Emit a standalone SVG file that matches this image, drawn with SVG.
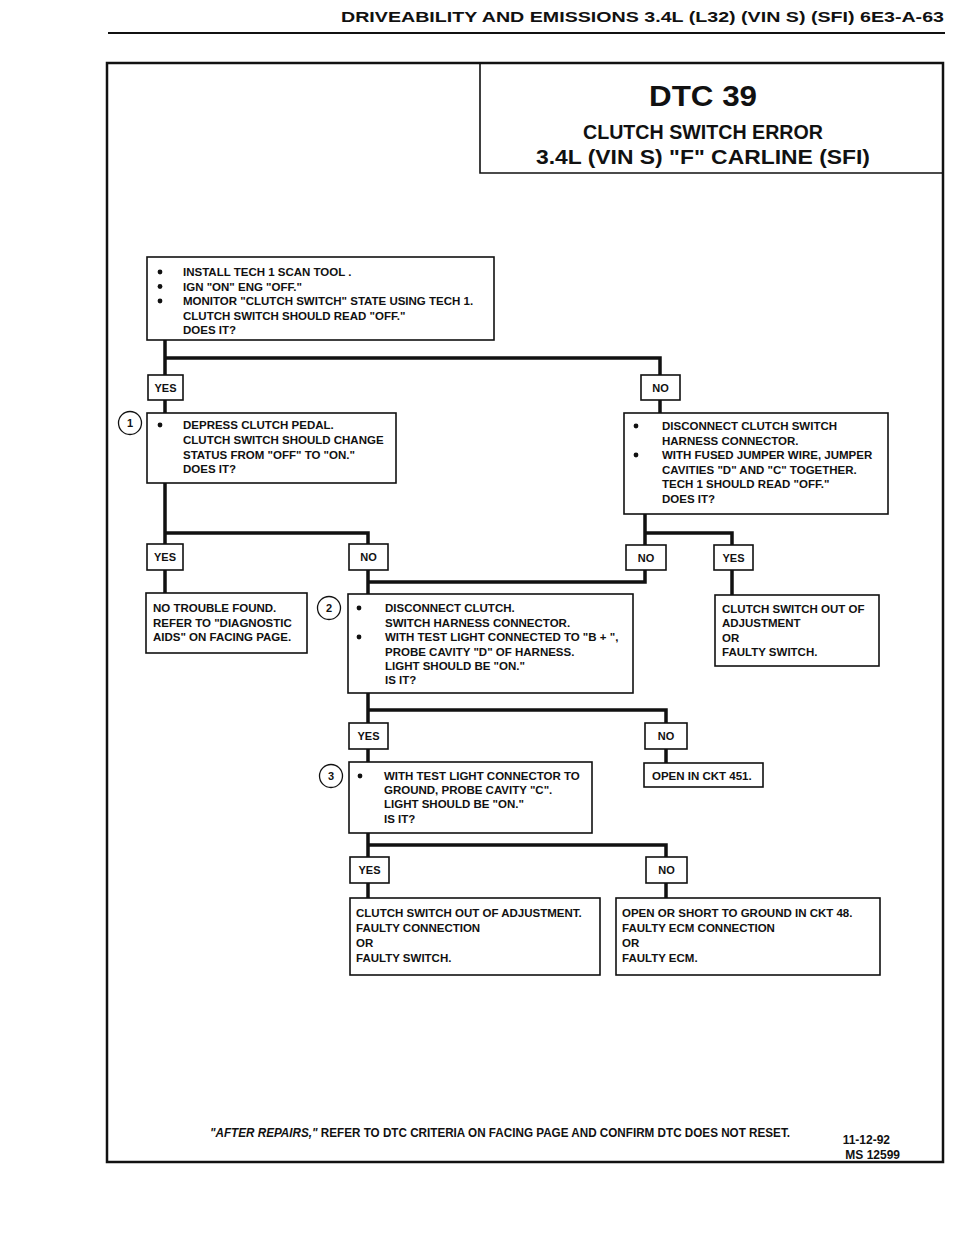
<svg xmlns="http://www.w3.org/2000/svg" width="960" height="1250" viewBox="0 0 960 1250">
<style>
text{font-family:"Liberation Sans",Arial,sans-serif;font-weight:bold;fill:#111}
.t{font-size:11.5px}
.lbl{font-size:11px;text-anchor:middle}
.box{fill:#fff;stroke:#111;stroke-width:1.6}
.conn{stroke:#111;stroke-width:3.5;fill:none}
.bul{fill:#111}
.num{fill:#fff;stroke:#111;stroke-width:1.3}
.ttl{text-anchor:middle}
</style>
<rect x="0" y="0" width="960" height="1250" fill="#fff"/>
<g id="header">
<text x="341" y="22" font-size="15" textLength="603" lengthAdjust="spacingAndGlyphs">DRIVEABILITY AND EMISSIONS 3.4L (L32) (VIN S) (SFI) 6E3-A-63</text>
<line x1="108" y1="33" x2="945" y2="33" stroke="#111" stroke-width="2"/>
</g>
<g id="frame">
<rect x="107" y="63" width="836" height="1099" fill="none" stroke="#111" stroke-width="2.5"/>
</g>
<g id="title">
<path d="M480 63 V173 H943" fill="none" stroke="#111" stroke-width="1.6"/>
<text class="ttl" x="703" y="106" font-size="29" textLength="108" lengthAdjust="spacingAndGlyphs">DTC 39</text>
<text class="ttl" x="703" y="139" font-size="20" textLength="240" lengthAdjust="spacingAndGlyphs">CLUTCH SWITCH ERROR</text>
<text class="ttl" x="703" y="164" font-size="20" textLength="334" lengthAdjust="spacingAndGlyphs">3.4L (VIN S) "F" CARLINE (SFI)</text>
</g>
<g id="connectors">
<path class="conn" d="M165 340 V375 M165 358 H660 V375"/>
<path class="conn" d="M165 400 V413 M660 400 V413"/>
<path class="conn" d="M165 483 V544 M165 533 H368 V544"/>
<path class="conn" d="M165 570 V593 M368 570 V594 M368 582 H645 V570"/>
<path class="conn" d="M645 514 V545 M645 533 H732 V545 M732 570 V595"/>
<path class="conn" d="M368 693 V723 M368 710 H666 V723"/>
<path class="conn" d="M368 749 V762 M666 749 V763"/>
<path class="conn" d="M368 833 V857 M368 845 H666 V857"/>
<path class="conn" d="M368 883 V898 M666 883 V898"/>
</g>
<g id="n0">
<rect class="box" x="147" y="257" width="347" height="83"/>
<circle class="bul" cx="160" cy="272" r="2.4"/><circle class="bul" cx="160" cy="286.5" r="2.4"/><circle class="bul" cx="160" cy="301" r="2.4"/>
<text class="t" x="183" y="276">INSTALL TECH 1 SCAN TOOL .</text>
<text class="t" x="183" y="290.5">IGN "ON" ENG "OFF."</text>
<text class="t" x="183" y="305">MONITOR "CLUTCH SWITCH" STATE USING TECH 1.</text>
<text class="t" x="183" y="319.5">CLUTCH SWITCH SHOULD READ "OFF."</text>
<text class="t" x="183" y="334">DOES IT?</text>
</g>
<g id="yes1"><rect class="box" x="148" y="375" width="35" height="25"/><text class="lbl" x="165.5" y="391.5">YES</text></g>
<g id="no1"><rect class="box" x="641" y="375" width="39" height="25"/><text class="lbl" x="660.5" y="391.5">NO</text></g>
<g id="n1">
<circle class="num" cx="130" cy="423" r="11.5"/><text class="lbl" x="130" y="427">1</text>
<rect class="box" x="147" y="413" width="249" height="70"/>
<circle class="bul" cx="160" cy="425" r="2.4"/>
<text class="t" x="183" y="429">DEPRESS CLUTCH PEDAL.</text>
<text class="t" x="183" y="444">CLUTCH SWITCH SHOULD CHANGE</text>
<text class="t" x="183" y="458.5">STATUS FROM "OFF" TO "ON."</text>
<text class="t" x="183" y="473">DOES IT?</text>
</g>
<g id="n1r">
<rect class="box" x="624" y="413" width="264" height="101"/>
<circle class="bul" cx="636" cy="426" r="2.4"/><circle class="bul" cx="636" cy="455" r="2.4"/>
<text class="t" x="662" y="430">DISCONNECT CLUTCH SWITCH</text>
<text class="t" x="662" y="444.5">HARNESS CONNECTOR.</text>
<text class="t" x="662" y="459">WITH FUSED JUMPER WIRE, JUMPER</text>
<text class="t" x="662" y="473.5">CAVITIES "D" AND "C" TOGETHER.</text>
<text class="t" x="662" y="488">TECH 1 SHOULD READ "OFF."</text>
<text class="t" x="662" y="502.5">DOES IT?</text>
</g>
<g id="yes2"><rect class="box" x="147" y="544" width="36" height="26"/><text class="lbl" x="165" y="561">YES</text></g>
<g id="no2"><rect class="box" x="349" y="544" width="39" height="26"/><text class="lbl" x="368.5" y="561">NO</text></g>
<g id="no3"><rect class="box" x="626" y="545" width="40" height="25"/><text class="lbl" x="646" y="561.5">NO</text></g>
<g id="yes3"><rect class="box" x="714" y="545" width="39" height="25"/><text class="lbl" x="733.5" y="561.5">YES</text></g>
<g id="ntf">
<rect class="box" x="146" y="593" width="161" height="60"/>
<text class="t" x="153" y="612">NO TROUBLE FOUND.</text>
<text class="t" x="153" y="627">REFER TO "DIAGNOSTIC</text>
<text class="t" x="153" y="641">AIDS" ON FACING PAGE.</text>
</g>
<g id="n2">
<circle class="num" cx="329" cy="608" r="11.5"/><text class="lbl" x="329" y="612">2</text>
<rect class="box" x="348" y="594" width="285" height="99"/>
<circle class="bul" cx="359" cy="608" r="2.4"/><circle class="bul" cx="359" cy="637" r="2.4"/>
<text class="t" x="385" y="612">DISCONNECT CLUTCH.</text>
<text class="t" x="385" y="627">SWITCH HARNESS CONNECTOR.</text>
<text class="t" x="385" y="641">WITH TEST LIGHT CONNECTED TO "B + ",</text>
<text class="t" x="385" y="656">PROBE CAVITY "D" OF HARNESS.</text>
<text class="t" x="385" y="670">LIGHT SHOULD BE "ON."</text>
<text class="t" x="385" y="684">IS IT?</text>
</g>
<g id="r2">
<rect class="box" x="715" y="595" width="164" height="71"/>
<text class="t" x="722" y="613">CLUTCH SWITCH OUT OF</text>
<text class="t" x="722" y="627">ADJUSTMENT</text>
<text class="t" x="722" y="642">OR</text>
<text class="t" x="722" y="656">FAULTY SWITCH.</text>
</g>
<g id="yes4"><rect class="box" x="349" y="723" width="39" height="26"/><text class="lbl" x="368.5" y="740">YES</text></g>
<g id="no4"><rect class="box" x="645" y="723" width="42" height="26"/><text class="lbl" x="666" y="740">NO</text></g>
<g id="n3">
<circle class="num" cx="331" cy="776" r="11.5"/><text class="lbl" x="331" y="780">3</text>
<rect class="box" x="349" y="762" width="243" height="71"/>
<circle class="bul" cx="360" cy="776" r="2.4"/>
<text class="t" x="384" y="780">WITH TEST LIGHT CONNECTOR TO</text>
<text class="t" x="384" y="794">GROUND, PROBE CAVITY "C".</text>
<text class="t" x="384" y="808">LIGHT SHOULD BE "ON."</text>
<text class="t" x="384" y="823">IS IT?</text>
</g>
<g id="open451">
<rect class="box" x="644" y="763" width="119" height="24"/>
<text class="t" x="652" y="779.5">OPEN IN CKT 451.</text>
</g>
<g id="yes5"><rect class="box" x="350" y="857" width="39" height="26"/><text class="lbl" x="369.5" y="874">YES</text></g>
<g id="no5"><rect class="box" x="646" y="857" width="41" height="26"/><text class="lbl" x="666.5" y="874">NO</text></g>
<g id="res1">
<rect class="box" x="350" y="898" width="250" height="77"/>
<text class="t" x="356" y="917">CLUTCH SWITCH OUT OF ADJUSTMENT.</text>
<text class="t" x="356" y="932">FAULTY CONNECTION</text>
<text class="t" x="356" y="947">OR</text>
<text class="t" x="356" y="962">FAULTY SWITCH.</text>
</g>
<g id="res2">
<rect class="box" x="616" y="898" width="264" height="77"/>
<text class="t" x="622" y="917">OPEN OR SHORT TO GROUND IN CKT 48.</text>
<text class="t" x="622" y="932">FAULTY ECM CONNECTION</text>
<text class="t" x="622" y="947">OR</text>
<text class="t" x="622" y="962">FAULTY ECM.</text>
</g>
<g id="footer">
<text x="210" y="1137" font-size="12" font-weight="normal" textLength="580" lengthAdjust="spacingAndGlyphs"><tspan font-style="italic">"AFTER REPAIRS,"</tspan> REFER TO DTC CRITERIA ON FACING PAGE AND CONFIRM DTC DOES NOT RESET.</text>
<text x="890" y="1144" font-size="12" text-anchor="end">11-12-92</text>
<text x="900" y="1159" font-size="12" text-anchor="end">MS 12599</text>
</g>
</svg>
